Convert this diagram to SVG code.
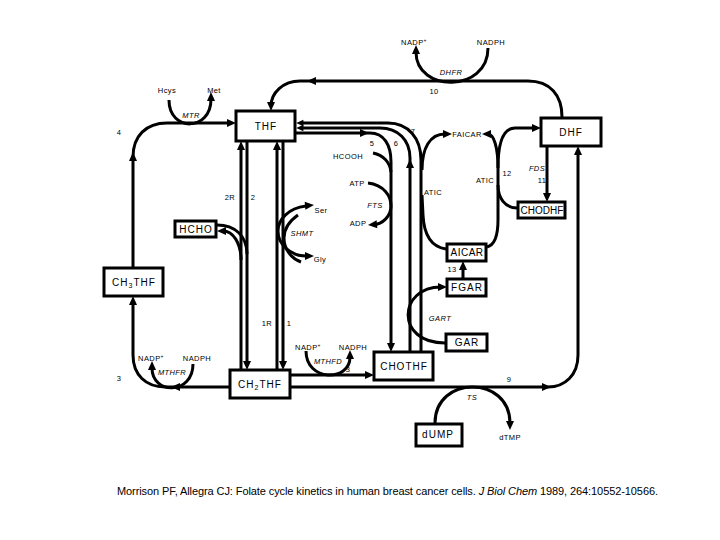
<svg xmlns="http://www.w3.org/2000/svg" width="720" height="540" viewBox="0 0 720 540">
<defs>
<path id="ah" d="M1,0 L-8,-4 L-8,4 Z"/>
</defs>
<style>
.box{fill:#fff;stroke:#000;stroke-width:3}
.bt{font-family:"Liberation Sans",Arial,sans-serif;font-size:10px;letter-spacing:1px;text-anchor:middle;fill:#000}
.lb{font-family:"Liberation Sans",Arial,sans-serif;font-size:7.5px;letter-spacing:0.4px;text-anchor:middle;fill:#000}
.en{font-style:italic}
.ln{fill:none;stroke:#000;stroke-width:3}
.cite{font-family:"Liberation Sans",Arial,sans-serif;font-size:11px;fill:#000}
</style>
<rect width="720" height="540" fill="#fff"/>
<g id="connectors">
<path class="ln" d="M562,117 C562,95 550,81 528,81 L300,81 C283,81 271,93 271,106"/>
<path class="ln" d="M133,267 L133,157 C133,136 146,123 167,123 L230,123"/>
<path class="ln" d="M229,387 L165,387 C146,387 133,375 133,355 L133,302"/>
<path class="ln" d="M241,369 L241,147 M247,142 L247,364 M277,369 L277,147 M283,142 L283,364"/>
<path class="ln" d="M217,225 C235,225 247,236 247,254"/>
<path class="ln" d="M241,260 C241,243 233,231 223,231"/>
<path class="ln" d="M306,206 C288,208 278,220 278,231 C278,244 290,256 306,256"/>
<path class="ln" d="M298,215 C288,222 284,230 284,238 C284,248 290,258 301,262"/>
<path class="ln" d="M296,133 L370,133 C384,133 391,145 391,162 L391,346"/>
<path class="ln" d="M410,351 L410,158 C410,140 398,128 380,128 L302,128"/>
<path class="ln" d="M421,351 L421,160 C421,138 408,123 388,123 L302,123"/>
<path class="ln" d="M373,153 C383,155 390,162 391,172"/>
<path class="ln" d="M368,183 C384,185 391,196 391,206 C391,216 383,224 373,225"/>
<path class="ln" d="M446,249 C432,247 424,236 423,215 L422,195"/>
<path class="ln" d="M422,170 C422,148 430,134 445,134"/>
<path class="ln" d="M487,247 C495,245 498,235 498,220 L498,168"/>
<path class="ln" d="M498,168 C498,148 494,134 488,134"/>
<path class="ln" d="M498,168 C498,145 502,128 515,128 L535,128"/>
<path class="ln" d="M517,208 C505,208 498,198 498,185"/>
<path class="ln" d="M547,147 L547,196"/>
<path class="ln" d="M291,387 L548,387 C565,387 578,375 578,355 L578,152"/>
<path class="ln" d="M291,375 L368,375"/>
<path class="ln" d="M463,278 L463,267"/>
<path class="ln" d="M445,343 C395,343 398,287 441,287"/>
<path class="ln" d="M435,423 C435,375 510,375 510,423"/>
<path class="ln" d="M488,48 C488,93 416,93 416,52"/>
<path class="ln" d="M169,100 C169,132 211,132 211,99"/>
<path class="ln" d="M193,364 C193,395 152,395 152,368"/>
<path class="ln" d="M306,351 C306,382 350,382 350,357"/>
<use href="#ah" transform="translate(271,110) rotate(90)"/>
<use href="#ah" transform="translate(308,81) rotate(180)"/>
<use href="#ah" transform="translate(235,123)"/>
<use href="#ah" transform="translate(133,153) rotate(-90)"/>
<use href="#ah" transform="translate(133,297) rotate(-90)"/>
<use href="#ah" transform="translate(172,387) rotate(180)"/>
<use href="#ah" transform="translate(211,93) rotate(-90)"/>
<use href="#ah" transform="translate(416,46) rotate(-90)"/>
<use href="#ah" transform="translate(152,362) rotate(-90)"/>
<use href="#ah" transform="translate(350,351) rotate(-90)"/>
<use href="#ah" transform="translate(510,429) rotate(90)"/>
<use href="#ah" transform="translate(241,142) rotate(-90)"/>
<use href="#ah" transform="translate(277,142) rotate(-90)"/>
<use href="#ah" transform="translate(247,369) rotate(90)"/>
<use href="#ah" transform="translate(283,369) rotate(90)"/>
<use href="#ah" transform="translate(218,231) rotate(180)"/>
<use href="#ah" transform="translate(313,205) rotate(-5)"/>
<use href="#ah" transform="translate(313,256)"/>
<use href="#ah" transform="translate(297,123) rotate(180) scale(0.8)"/>
<use href="#ah" transform="translate(297,128) rotate(180) scale(0.8)"/>
<use href="#ah" transform="translate(368,133)"/>
<use href="#ah" transform="translate(410,160) rotate(-90)"/>
<use href="#ah" transform="translate(391,351) rotate(90)"/>
<use href="#ah" transform="translate(369,225) rotate(175)"/>
<use href="#ah" transform="translate(451,134)"/>
<use href="#ah" transform="translate(483,134) rotate(180)"/>
<use href="#ah" transform="translate(540,128)"/>
<use href="#ah" transform="translate(547,201) rotate(90)"/>
<use href="#ah" transform="translate(578,147) rotate(-90)"/>
<use href="#ah" transform="translate(550,387)"/>
<use href="#ah" transform="translate(373,375)"/>
<use href="#ah" transform="translate(463,262) rotate(-90)"/>
<use href="#ah" transform="translate(446,287)"/>
</g>
<g id="THF"><rect class="box" x="236" y="111" width="59" height="30"/><text class="bt" x="266" y="130">THF</text></g>
<g id="DHF"><rect class="box" x="541" y="118" width="60" height="28"/><text class="bt" x="571" y="136">DHF</text></g>
<g id="HCHO"><rect class="box" x="175" y="221" width="41" height="16"/><text class="bt" x="196" y="233">HCHO</text></g>
<g id="CH3THF"><rect class="box" x="104" y="268" width="59" height="28"/><text class="bt" x="134" y="286">CH<tspan font-size="7" dy="2">3</tspan><tspan dy="-2">THF</tspan></text></g>
<g id="AICAR"><rect class="box" x="447" y="244" width="39" height="17"/><text class="bt" x="467" y="256" style="letter-spacing:0.5px">AICAR</text></g>
<g id="FGAR"><rect class="box" x="447" y="279" width="39" height="17"/><text class="bt" x="467" y="291">FGAR</text></g>
<g id="CHODHF"><rect class="box" x="518" y="202" width="47" height="16"/><text class="bt" x="542" y="214" style="letter-spacing:0px">CHODHF</text></g>
<g id="GAR"><rect class="box" x="446" y="334" width="41" height="17"/><text class="bt" x="467" y="346">GAR</text></g>
<g id="CHOTHF"><rect class="box" x="374" y="352" width="59" height="28"/><text class="bt" x="404" y="370">CHOTHF</text></g>
<g id="CH2THF"><rect class="box" x="230" y="370" width="60" height="28"/><text class="bt" x="260" y="388">CH<tspan font-size="7" dy="2">2</tspan><tspan dy="-2">THF</tspan></text></g>
<g id="dUMP"><rect class="box" x="416" y="424" width="46" height="22"/><text class="bt" x="438" y="438">dUMP</text></g>
<g id="labels">
<text class="lb" x="414" y="45">NADP<tspan font-size="5" dy="-3">+</tspan></text>
<text class="lb" x="491" y="45">NADPH</text>
<text class="lb en" x="451" y="75">DHFR</text>
<text class="lb" x="434" y="94">10</text>
<text class="lb" x="167" y="93">Hcys</text>
<text class="lb" x="214" y="93">Met</text>
<text class="lb en" x="191" y="118">MTR</text>
<text class="lb" x="119" y="135">4</text>
<text class="lb" x="372" y="146">5</text>
<text class="lb" x="396" y="146">6</text>
<text class="lb" x="413" y="134">7</text>
<text class="lb" x="348" y="159">HCOOH</text>
<text class="lb" x="357" y="186">ATP</text>
<text class="lb en" x="375" y="208">FTS</text>
<text class="lb" x="358" y="226">ADP</text>
<text class="lb" x="230" y="200">2R</text>
<text class="lb" x="253" y="200">2</text>
<text class="lb" x="321" y="213">Ser</text>
<text class="lb" x="320" y="262">Gly</text>
<text class="lb en" x="302" y="236">SHMT</text>
<text class="lb" x="433" y="195">ATIC</text>
<text class="lb" x="485" y="183">ATIC</text>
<text class="lb" x="507" y="176">12</text>
<text class="lb en" x="537" y="171">FDS</text>
<text class="lb" x="542" y="183">11</text>
<text class="lb" x="467" y="137">FAICAR</text>
<text class="lb" x="452" y="272">13</text>
<text class="lb en" x="440" y="321">GART</text>
<text class="lb" x="267" y="326">1R</text>
<text class="lb" x="289" y="326">1</text>
<text class="lb" x="151" y="361">NADP<tspan font-size="5" dy="-3">+</tspan></text>
<text class="lb" x="197" y="361">NADPH</text>
<text class="lb en" x="172" y="375">MTHFR</text>
<text class="lb" x="119" y="381">3</text>
<text class="lb" x="308" y="350">NADP<tspan font-size="5" dy="-3">+</tspan></text>
<text class="lb" x="353" y="350">NADPH</text>
<text class="lb en" x="328" y="364">MTHFD</text>
<text class="lb" x="348" y="372">3</text>
<text class="lb" x="509" y="382">9</text>
<text class="lb en" x="472" y="400">TS</text>
<text class="lb" x="510" y="440">dTMP</text>
<text class="cite" x="117" y="495" textLength="541" lengthAdjust="spacing">Morrison PF, Allegra CJ: Folate cycle kinetics in human breast cancer cells. <tspan font-style="italic">J Biol Chem</tspan> 1989, 264:10552-10566.</text>
</g>
</svg>
